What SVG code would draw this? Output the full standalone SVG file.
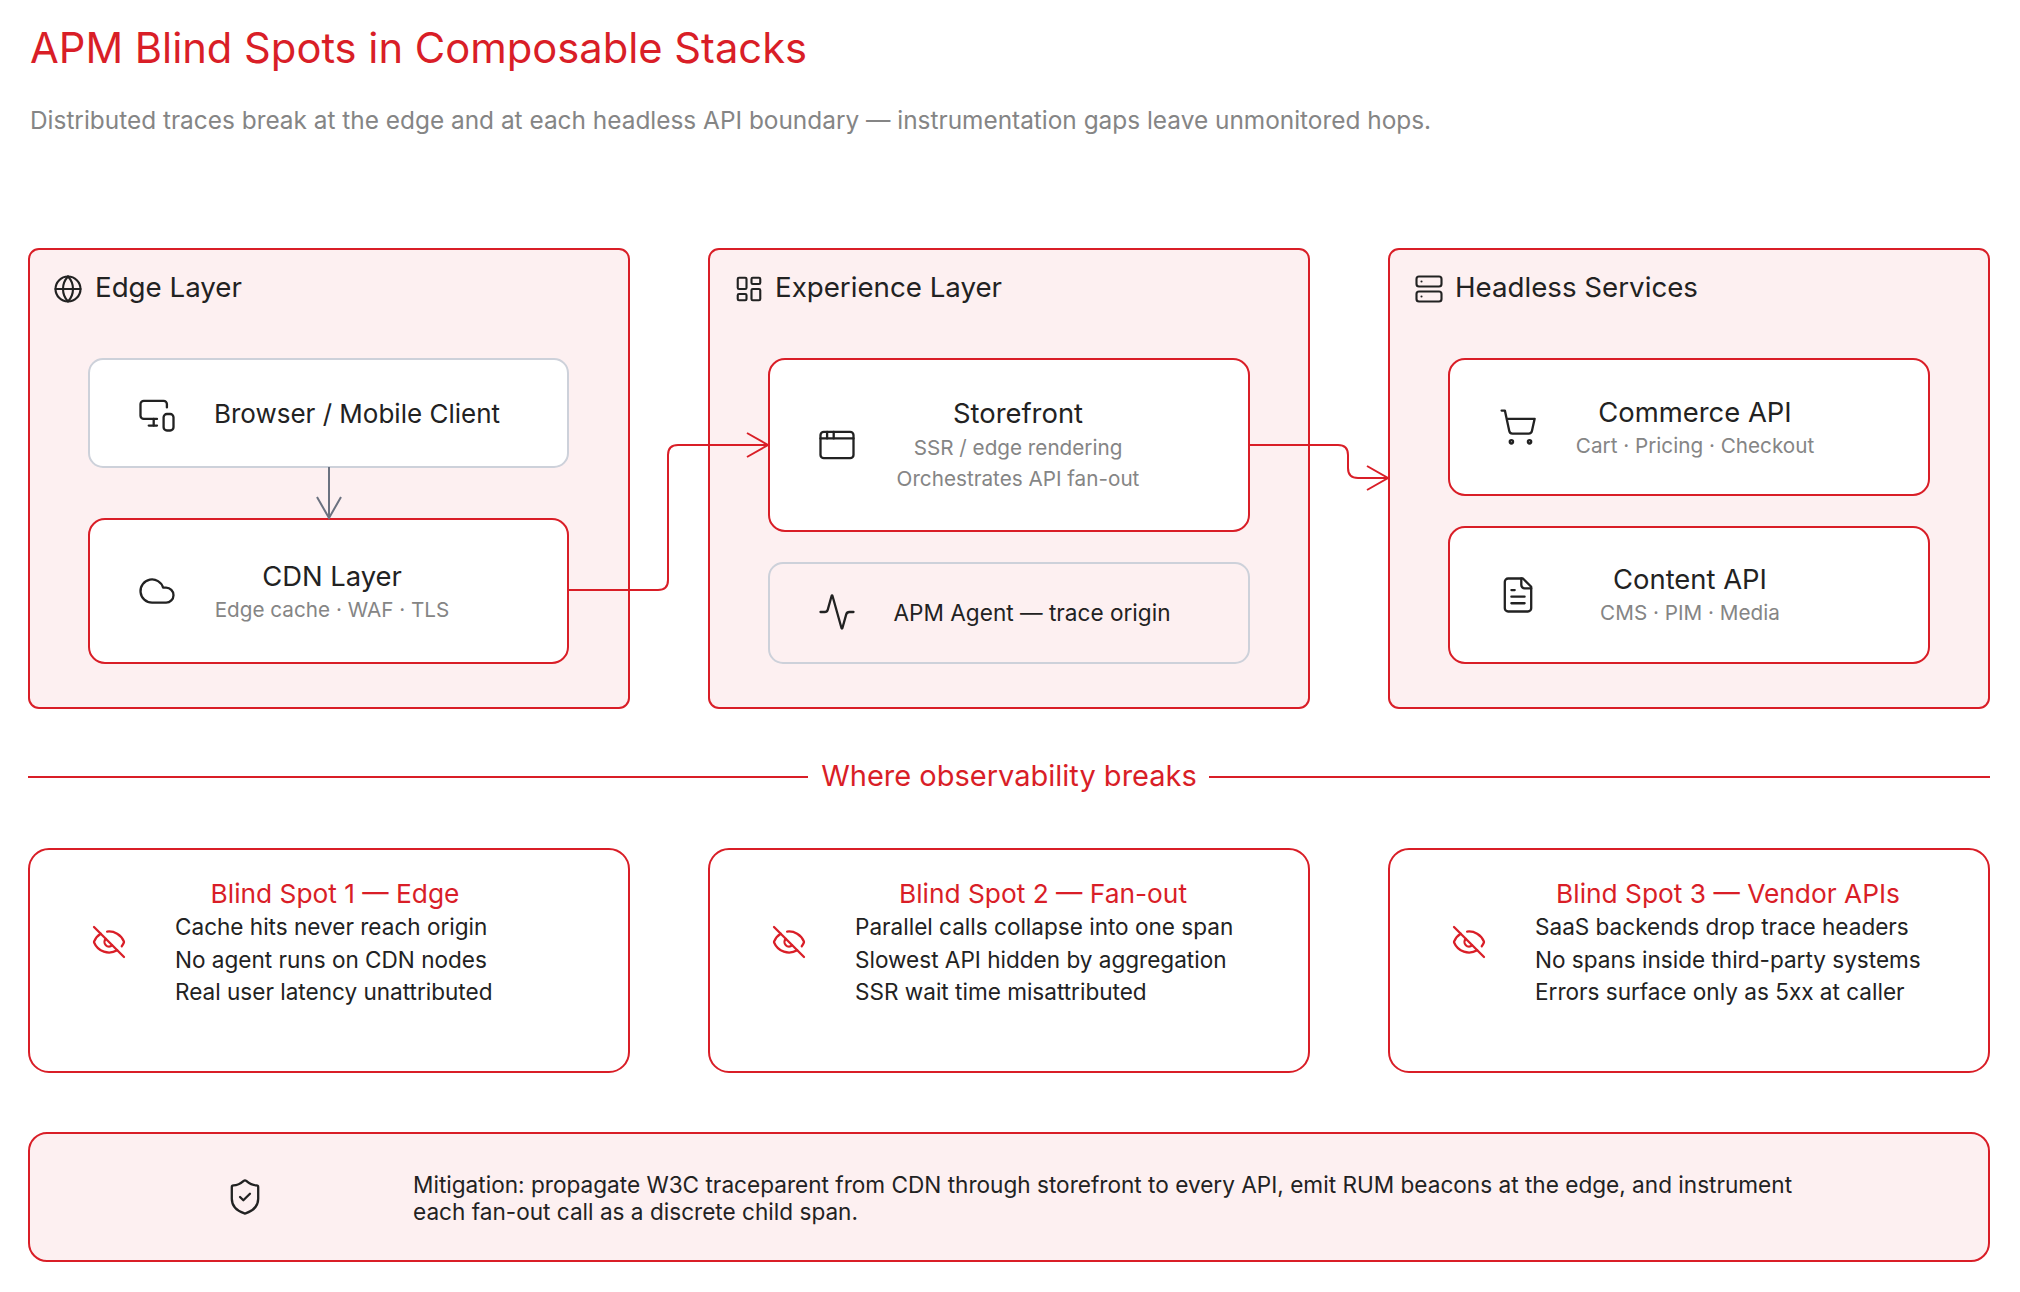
<svg xmlns="http://www.w3.org/2000/svg" width="2020" height="1292" viewBox="0 0 2020 1292">
<defs>
<style>
text{font-family:"Inter","Liberation Sans",sans-serif;}
.title{font-size:41.7px;fill:#d91e27;}
.sub{font-size:24.4px;fill:#858585;}
.panel{fill:#fdf0f1;stroke:#d91e27;stroke-width:2;}
.node{fill:#ffffff;stroke:#d91e27;stroke-width:2;}
.gnode{fill:#ffffff;stroke:#cdd1da;stroke-width:2;}
.gnode2{fill:#fdf0f1;stroke:#cdd1da;stroke-width:2;}
.card{fill:#ffffff;stroke:#d91e27;stroke-width:2;}
.mit{fill:#fdf0f1;stroke:#d91e27;stroke-width:2;}
.hdr{font-size:27.7px;fill:#222222;}
.ntitle{font-size:27.4px;fill:#222222;text-anchor:middle;}
.nlabel{font-size:24px;fill:#222222;}
.nsub{font-size:20.7px;fill:#858585;text-anchor:middle;}
.btitle{font-size:26.3px;fill:#d91e27;text-anchor:middle;}
.bline{font-size:22.55px;fill:#222222;}
.mtext{font-size:22.6px;fill:#222222;}
.divlbl{font-size:29px;fill:#d91e27;text-anchor:middle;}
.ico{fill:none;stroke:#222222;stroke-linecap:round;stroke-linejoin:round;}
.rico{fill:none;stroke:#d91e27;stroke-linecap:round;stroke-linejoin:round;}
.conn{fill:none;stroke:#d91e27;stroke-width:2;}
.gconn{fill:none;stroke:#6b7280;stroke-width:2;}
</style>
<marker id="arrR" viewBox="0 0 24 26" refX="22" refY="13" markerWidth="24" markerHeight="26" markerUnits="userSpaceOnUse" orient="auto">
<path d="M1 1 L22 13 L1 25" fill="none" stroke="#d91e27" stroke-width="2"/>
</marker>
<marker id="arrG" viewBox="0 0 24 26" refX="22" refY="13" markerWidth="24" markerHeight="26" markerUnits="userSpaceOnUse" orient="auto">
<path d="M1 1 L22 13 L1 25" fill="none" stroke="#6b7280" stroke-width="2"/>
</marker>
</defs>
<rect x="0" y="0" width="2020" height="1292" fill="#ffffff"/>

<g id="header">
<text class="title" x="30" y="63">APM Blind Spots in Composable Stacks</text>
<text class="sub" x="30" y="129">Distributed traces break at the edge and at each headless API boundary — instrumentation gaps leave unmonitored hops.</text>
</g>

<g id="edge-layer">
<rect class="panel" x="29" y="249" width="600" height="459" rx="10"/>
<g class="ico" stroke-width="1.7" transform="translate(53,274) scale(1.25)">
<circle cx="12" cy="12" r="10"/>
<path d="M12 2a14.5 14.5 0 0 0 0 20 14.5 14.5 0 0 0 0-20"/>
<path d="M2 12h20"/>
</g>
<text class="hdr" x="95" y="297">Edge Layer</text>
</g>

<g id="experience-layer">
<rect class="panel" x="709" y="249" width="600" height="459" rx="10"/>
<g class="ico" stroke-width="1.7" transform="translate(734,274) scale(1.25)">
<rect x="3" y="3" width="7" height="9" rx="1"/>
<rect x="14" y="3" width="7" height="5" rx="1"/>
<rect x="14" y="12" width="7" height="9" rx="1"/>
<rect x="3" y="16" width="7" height="5" rx="1"/>
</g>
<text class="hdr" x="775" y="297">Experience Layer</text>
</g>

<g id="headless-services">
<rect class="panel" x="1389" y="249" width="600" height="459" rx="10"/>
<g class="ico" stroke-width="1.7" transform="translate(1414,274) scale(1.25)">
<rect x="2" y="2" width="20" height="8" rx="2"/>
<rect x="2" y="14" width="20" height="8" rx="2"/>
<path d="M6 6h.01"/>
<path d="M6 18h.01"/>
</g>
<text class="hdr" x="1455" y="297">Headless Services</text>
</g>

<g id="browser">
<rect class="gnode" x="89" y="359" width="479" height="108" rx="14"/>
<g class="ico" stroke-width="1.4" transform="translate(137.2,394.2) scale(1.65)">
<path d="M18 8V6a2 2 0 0 0-2-2H4a2 2 0 0 0-2 2v7a2 2 0 0 0 2 2h8"/>
<path d="M10 19v-3.96 3.15"/>
<path d="M7 19h5"/>
<rect x="16" y="12" width="6" height="10" rx="2"/>
</g>
<text class="nlabel" x="357" y="423" text-anchor="middle" style="font-size:26px">Browser / Mobile Client</text>
</g>

<g id="cdn">
<rect class="node" x="89" y="519" width="479" height="144" rx="16"/>
<g class="ico" stroke-width="1.4" transform="translate(137.2,571.2) scale(1.65)">
<path d="M17.5 19H9a7 7 0 1 1 6.71-9h1.79a4.5 4.5 0 1 1 0 9Z"/>
</g>
<text class="ntitle" x="332" y="586">CDN Layer</text>
<text class="nsub" x="332" y="617">Edge cache · WAF · TLS</text>
</g>

<g id="storefront">
<rect class="node" x="769" y="359" width="480" height="172" rx="16"/>
<g class="ico" stroke-width="1.4" transform="translate(817.2,425.2) scale(1.65)">
<rect x="2" y="4" width="20" height="16" rx="2"/>
<path d="M10 4v4"/>
<path d="M2 8h20"/>
<path d="M6 4v4"/>
</g>
<text class="ntitle" x="1018" y="423">Storefront</text>
<text class="nsub" x="1018" y="455">SSR / edge rendering</text>
<text class="nsub" x="1018" y="486">Orchestrates API fan-out</text>
</g>

<g id="apm-agent">
<rect class="gnode2" x="769" y="563" width="480" height="100" rx="14"/>
<g class="ico" stroke-width="1.4" transform="translate(817.2,592.2) scale(1.65)">
<path d="M22 12h-2.48a2 2 0 0 0-1.93 1.46l-2.35 8.36a.25.25 0 0 1-.48 0L9.24 2.18a.25.25 0 0 0-.48 0l-2.35 8.36A2 2 0 0 1 4.49 12H2"/>
</g>
<text class="nlabel" x="1032" y="621" text-anchor="middle" style="font-size:22.6px">APM Agent — trace origin</text>
</g>

<g id="commerce-api">
<rect class="node" x="1449" y="359" width="480" height="136" rx="16"/>
<g class="ico" stroke-width="1.4" transform="translate(1498.2,407.2) scale(1.65)">
<circle cx="8" cy="21" r="1"/>
<circle cx="19" cy="21" r="1"/>
<path d="M2.05 2.05h2l2.66 12.42a2 2 0 0 0 2 1.58h9.78a2 2 0 0 0 1.95-1.57l1.65-7.43H5.12"/>
</g>
<text class="ntitle" x="1695" y="422">Commerce API</text>
<text class="nsub" x="1695" y="453">Cart · Pricing · Checkout</text>
</g>

<g id="content-api">
<rect class="node" x="1449" y="527" width="480" height="136" rx="16"/>
<g class="ico" stroke-width="1.4" transform="translate(1498.2,575.2) scale(1.65)">
<path d="M15 2H6a2 2 0 0 0-2 2v16a2 2 0 0 0 2 2h12a2 2 0 0 0 2-2V7Z"/>
<path d="M14 2v4a2 2 0 0 0 2 2h4"/>
<path d="M10 9H8"/>
<path d="M16 13H8"/>
<path d="M16 17H8"/>
</g>
<text class="ntitle" x="1690" y="589">Content API</text>
<text class="nsub" x="1690" y="620">CMS · PIM · Media</text>
</g>

<g id="connectors">
<path class="gconn" d="M329 467 V518" marker-end="url(#arrG)"/>
<path class="conn" d="M569 590 H658 Q668 590 668 580 V455 Q668 445 678 445 H768" marker-end="url(#arrR)"/>
<path class="conn" d="M1249 445 H1338 Q1348 445 1348 455 V468 Q1348 478 1358 478 H1388" marker-end="url(#arrR)"/>
</g>

<g id="divider">
<line x1="28" y1="777" x2="808" y2="777" stroke="#d91e27" stroke-width="2"/>
<line x1="1209" y1="777" x2="1990" y2="777" stroke="#d91e27" stroke-width="2"/>
<text class="divlbl" x="1009" y="786">Where observability breaks</text>
</g>

<g id="blind-spot-1">
<rect class="card" x="29" y="849" width="600" height="223" rx="20"/>
<g class="rico" stroke-width="1.5" transform="translate(91,924) scale(1.5)">
<path d="M10.733 5.076a10.744 10.744 0 0 1 11.205 6.575 1 1 0 0 1 0 .696 10.747 10.747 0 0 1-1.444 2.49"/>
<path d="M14.084 14.158a3 3 0 0 1-4.242-4.242"/>
<path d="M17.479 17.499a10.75 10.75 0 0 1-15.417-5.151 1 1 0 0 1 0-.696 10.75 10.75 0 0 1 4.446-5.143"/>
<path d="m2 2 20 20"/>
</g>
<text class="btitle" x="335" y="903">Blind Spot 1 — Edge</text>
<text class="bline" x="175" y="935">Cache hits never reach origin</text>
<text class="bline" x="175" y="968">No agent runs on CDN nodes</text>
<text class="bline" x="175" y="1000">Real user latency unattributed</text>
</g>

<g id="blind-spot-2">
<rect class="card" x="709" y="849" width="600" height="223" rx="20"/>
<g class="rico" stroke-width="1.5" transform="translate(771,924) scale(1.5)">
<path d="M10.733 5.076a10.744 10.744 0 0 1 11.205 6.575 1 1 0 0 1 0 .696 10.747 10.747 0 0 1-1.444 2.49"/>
<path d="M14.084 14.158a3 3 0 0 1-4.242-4.242"/>
<path d="M17.479 17.499a10.75 10.75 0 0 1-15.417-5.151 1 1 0 0 1 0-.696 10.75 10.75 0 0 1 4.446-5.143"/>
<path d="m2 2 20 20"/>
</g>
<text class="btitle" x="1043" y="903">Blind Spot 2 — Fan-out</text>
<text class="bline" x="855" y="935">Parallel calls collapse into one span</text>
<text class="bline" x="855" y="968">Slowest API hidden by aggregation</text>
<text class="bline" x="855" y="1000">SSR wait time misattributed</text>
</g>

<g id="blind-spot-3">
<rect class="card" x="1389" y="849" width="600" height="223" rx="20"/>
<g class="rico" stroke-width="1.5" transform="translate(1451,924) scale(1.5)">
<path d="M10.733 5.076a10.744 10.744 0 0 1 11.205 6.575 1 1 0 0 1 0 .696 10.747 10.747 0 0 1-1.444 2.49"/>
<path d="M14.084 14.158a3 3 0 0 1-4.242-4.242"/>
<path d="M17.479 17.499a10.75 10.75 0 0 1-15.417-5.151 1 1 0 0 1 0-.696 10.75 10.75 0 0 1 4.446-5.143"/>
<path d="m2 2 20 20"/>
</g>
<text class="btitle" x="1728" y="903">Blind Spot 3 — Vendor APIs</text>
<text class="bline" x="1535" y="935">SaaS backends drop trace headers</text>
<text class="bline" x="1535" y="968">No spans inside third-party systems</text>
<text class="bline" x="1535" y="1000">Errors surface only as 5xx at caller</text>
</g>

<g id="mitigation">
<rect class="mit" x="29" y="1133" width="1960" height="128" rx="18"/>
<g class="ico" stroke-width="1.4" transform="translate(225.2,1177.2) scale(1.65)">
<path d="M20 13c0 5-3.5 7.5-7.66 8.95a1 1 0 0 1-.67-.01C7.5 20.5 4 18 4 13V6a1 1 0 0 1 1-1c2 0 4.5-1.2 6.24-2.72a1.170 1.170 0 0 1 1.52 0C14.51 3.810 17 5 19 5a1 1 0 0 1 1 1z"/>
<path d="m9 12 2 2 4-4"/>
</g>
<text class="mtext" x="413" y="1193">Mitigation: propagate W3C traceparent from CDN through storefront to every API, emit RUM beacons at the edge, and instrument</text>
<text class="mtext" x="413" y="1220">each fan-out call as a discrete child span.</text>
</g>
</svg>
